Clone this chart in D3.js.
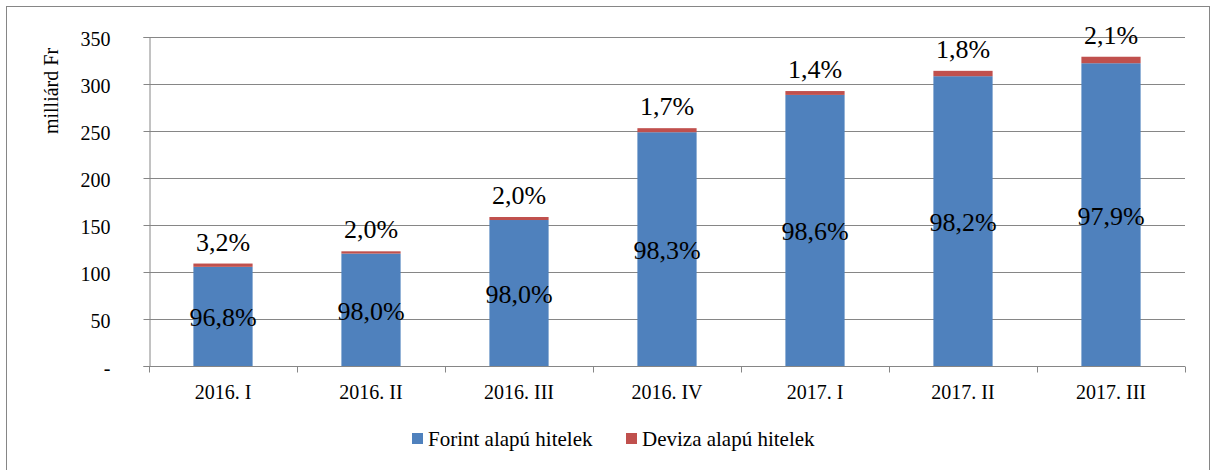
<!DOCTYPE html>
<html>
<head>
<meta charset="utf-8">
<script src="https://cdn.jsdelivr.net/npm/d3@7"></script>
<style>
  body { margin: 0; background: #fff; }
  svg text { font-family: "Liberation Serif", "DejaVu Serif", serif !important; fill: #000; }
</style>
</head>
<body>
<div id="chart"></div>
<script>
// quarters
var categories = ["2016. I", "2016. II", "2016. III", "2016. IV", "2017. I", "2017. II", "2017. III"];
// billion Ft
var forint = [105.5, 119.6, 155.3, 248.7, 288.4, 308.3, 322.1];
var deviza = [3.5, 2.4, 3.2, 4.3, 4.1, 5.7, 6.9];
// shares as printed on the bars
var forintPct = ["96,8%", "98,0%", "98,0%", "98,3%", "98,6%", "98,2%", "97,9%"];
var devizaPct = ["3,2%", "2,0%", "2,0%", "1,7%", "1,4%", "1,8%", "2,1%"];
var yTicks = [0, 50, 100, 150, 200, 250, 300, 350];
var seriesNames = ["Forint alapú hitelek", "Deviza alapú hitelek"];
var colors = ["#4F81BD", "#C0504D"];

var FONT = "'Liberation Serif', 'DejaVu Serif', serif";
var W = 1212, H = 470;
var margin = {top: 37, right: 27, bottom: 104, left: 149};
var width = W - margin.left - margin.right,
    height = H - margin.top - margin.bottom;

var svg = d3.select("#chart")
  .append("svg")
  .attr("width", W)
  .attr("height", H)
  .attr("font-family", FONT);

// outer frame
svg.append("rect")
  .attr("x", 6.5).attr("y", 6.5)
  .attr("width", W - 9).attr("height", H)
  .attr("fill", "none")
  .attr("stroke", "#868686");

var g = svg.append("g")
  .attr("transform", "translate(" + margin.left + "," + margin.top + ")");

var x = d3.scaleBand()
  .domain(categories)
  .range([0, width])
  .paddingInner(0.6)
  .paddingOuter(0.3);

var y = d3.scaleLinear()
  .domain([0, 350])
  .range([height, 0]);

// gridlines
g.append("g")
  .selectAll("line")
  .data(yTicks)
  .enter()
  .append("line")
    .attr("x1", 0).attr("x2", width)
    .attr("y1", function(d) { return Math.round(y(d)) + 0.5; })
    .attr("y2", function(d) { return Math.round(y(d)) + 0.5; })
    .attr("stroke", "#868686");

// y axis
var yAxis = g.append("g")
  .attr("transform", "translate(0.5,0)")
  .call(d3.axisLeft(y).tickValues(yTicks).tickSize(6).tickPadding(33)
    .tickFormat(function(d) { return d === 0 ? "-" : d; }));
yAxis.attr("font-family", FONT).attr("font-size", 20);
yAxis.select(".domain").attr("stroke", "#868686");
yAxis.selectAll(".tick line").attr("stroke", "#868686");
yAxis.selectAll(".tick text")
  .attr("dy", "0.4em")
  .attr("fill", "#000");

// x axis with ticks between categories
var step = x.step();
var xAxis = g.append("g")
  .attr("transform", "translate(0," + (Math.round(height) + 0.5) + ")");
xAxis.append("line")
  .attr("x1", 0).attr("x2", width)
  .attr("stroke", "#868686");
xAxis.selectAll(".sep")
  .data(d3.range(categories.length + 1))
  .enter()
  .append("line")
    .attr("x1", function(i) { return Math.round(i * step) + 0.5; })
    .attr("x2", function(i) { return Math.round(i * step) + 0.5; })
    .attr("y1", 0).attr("y2", 6)
    .attr("stroke", "#868686");
xAxis.selectAll(".lbl")
  .data(categories)
  .enter()
  .append("text")
    .attr("x", function(d) { return x(d) + x.bandwidth() / 2; })
    .attr("y", 32)
    .attr("text-anchor", "middle")
    .attr("font-size", 20)
    .text(function(d) { return d; });

// bars
var rows = categories.map(function(c, i) {
  return {cat: c, forint: forint[i], deviza: deviza[i], fp: forintPct[i], dp: devizaPct[i]};
});
var stacked = d3.stack().keys(["forint", "deviza"])(rows);

g.append("g")
  .selectAll("g")
  .data(stacked)
  .enter()
  .append("g")
    .attr("fill", function(d, i) { return colors[i]; })
  .selectAll("rect")
  .data(function(d) { return d; })
  .enter()
  .append("rect")
    .attr("x", function(d) { return x(d.data.cat); })
    .attr("y", function(d) { return y(d[1]); })
    .attr("height", function(d) { return y(d[0]) - y(d[1]); })
    .attr("width", x.bandwidth());

// labels inside blue bars
g.selectAll(".fl")
  .data(rows)
  .enter()
  .append("text")
    .attr("x", function(d) { return x(d.cat) + x.bandwidth() / 2; })
    .attr("y", function(d) { return (y(0) + y(d.forint)) / 2 + 10; })
    .attr("text-anchor", "middle")
    .attr("font-size", 26)
    .text(function(d) { return d.fp; });

// labels above bars
g.selectAll(".dl")
  .data(rows)
  .enter()
  .append("text")
    .attr("x", function(d) { return x(d.cat) + x.bandwidth() / 2; })
    .attr("y", function(d) { return y(d.forint + d.deviza) - 13; })
    .attr("text-anchor", "middle")
    .attr("font-size", 26)
    .text(function(d) { return d.dp; });

// y axis title
svg.append("text")
  .attr("transform", "translate(58,91) rotate(-90)")
  .attr("text-anchor", "middle")
  .attr("font-size", 20)
  .text("milliárd Fr");

// legend
var legend = svg.append("g").attr("transform", "translate(0,446)");
var legX = [412, 626];
seriesNames.forEach(function(n, i) {
  legend.append("rect")
    .attr("x", legX[i]).attr("y", -13)
    .attr("width", 11).attr("height", 11)
    .attr("fill", colors[i]);
  legend.append("text")
    .attr("x", legX[i] + 16).attr("y", 0)
    .attr("font-size", 21)
    .text(n);
});
</script>
</body>
</html>
